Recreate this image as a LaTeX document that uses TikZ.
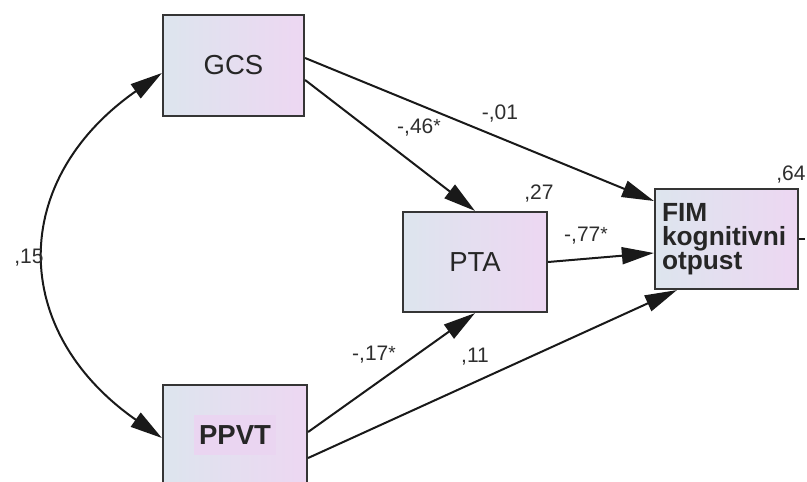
\documentclass[tikz,border=0pt]{standalone}
\usepackage{fontspec}
\setmainfont{Liberation Sans}
\usetikzlibrary{arrows.meta,calc}
\definecolor{boxl}{HTML}{DDE5EE}
\definecolor{boxr}{HTML}{EDD7F2}
\definecolor{edge}{HTML}{353535}
\definecolor{lbl}{HTML}{2E2E2E}
\definecolor{ppvthl}{HTML}{EAD5F1}
\newcommand{\sigmark}{\raisebox{1pt}{\fontsize{19}{19}\selectfont *}}
\begin{document}
\begin{tikzpicture}[x=1pt,y=-1pt,
  varbox/.style={draw=edge, line width=2.2pt, left color=boxl, right color=boxr,
    minimum width=143pt, minimum height=100pt, inner sep=0pt,
    font=\fontsize{27.5}{29}\selectfont, text=black!85},
  pathline/.style={line width=2pt, black!90, -{Triangle[length=32pt,width=17pt]}},
  covline/.style={line width=2pt, black!90, {Triangle[length=32pt,width=17pt]}-{Triangle[length=32pt,width=17pt]}},
  coef/.style={font=\fontsize{21}{22}\selectfont, text=lbl, inner sep=0pt},
]
\useasboundingbox (0,0) rectangle (807,482);

% variables
\node[varbox, minimum width=141pt, minimum height=101pt] (gcs) at (233.5,65.5) {GCS};
\node[varbox, minimum width=144pt] (pta) at (475,262) {PTA};
\node[varbox, text width=129pt, align=left,
      font=\bfseries\fontsize{26.3}{24}\selectfont] (fim) at (726.5,239) {FIM\\kognitivni\\otpust};
\node[varbox, minimum width=144pt, font=\bfseries\fontsize{27.5}{29}\selectfont] (ppvt) at (235,435)
  {\setlength{\fboxsep}{0pt}\colorbox{ppvthl}{\hspace{5pt}\rule[-11pt]{0pt}{40pt}PPVT\hspace{5pt}}};

% paths
\draw[pathline] ([yshift=7.5pt]gcs.east) -- ([yshift=38pt]fim.west);
\draw[pathline] ([yshift=-14.5pt]gcs.east) -- (pta.north);
\draw[pathline] (pta.east) -- ([yshift=-14pt]fim.west);
\draw[pathline] ([yshift=3pt]ppvt.east) -- (pta.south);
\draw[pathline] ([yshift=-23pt]ppvt.east) -- ([xshift=23pt]fim.south west);
\draw[covline] ([yshift=-7.5pt]gcs.west) .. controls +(-153,107) and +(-153,-107) .. ([yshift=-3pt]ppvt.west);
\draw[line width=2pt, black!90] (fim.east) -- ++(6,0);

% coefficients
\node[coef] (c15) at (29,258) {,15};
\node[coef] (c46) at (419,128) {-,46\sigmark};
\node[coef] (c01) at (500,114) {-,01};
\node[coef] (c27) at (539,194) {,27};
\node[coef] (c77) at (586,236) {-,77\sigmark};
\node[coef] (c64) at (791,175) {,64};
\node[coef] (c17) at (374,355) {-,17\sigmark};
\node[coef] (c11) at (475,357) {,11};
\end{tikzpicture}
\end{document}
